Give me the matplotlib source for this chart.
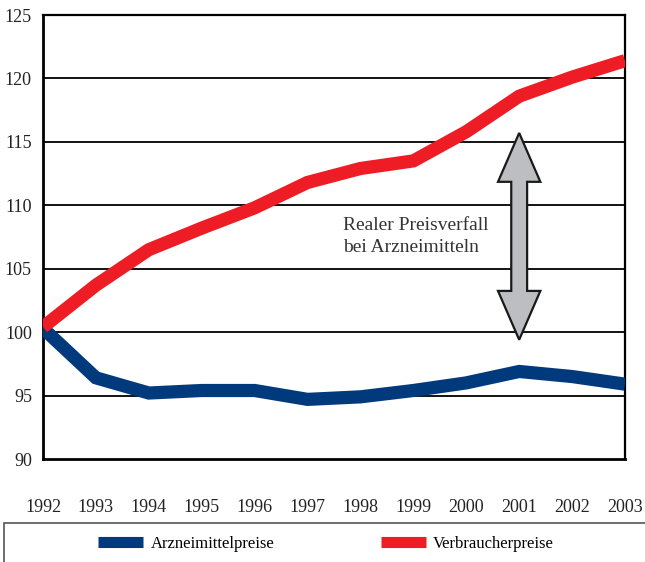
import matplotlib
matplotlib.use("Agg")
import matplotlib.pyplot as plt
from matplotlib.patches import Polygon, Rectangle
from matplotlib.lines import Line2D

years = [1992, 1993, 1994, 1995, 1996, 1997, 1998, 1999, 2000, 2001, 2002, 2003]
arznei = [100.3, 96.4, 95.2, 95.4, 95.4, 94.7, 94.9, 95.4, 96.0, 96.9, 96.5, 95.9]
verbraucher = [100.4, 103.7, 106.5, 108.2, 109.8, 111.8, 112.9, 113.5, 115.8, 118.6, 120.1, 121.4]
yticks = [90, 95, 100, 105, 110, 115, 120, 125]
labels = ["Arzneimittelpreise", "Verbraucherpreise"]
annot_lines = ["Realer Preisverfall", "bei Arzneimitteln"]

BLUE = "#003a7d"
RED = "#ee1c25"
serif = ["Liberation Serif", "DejaVu Serif"]

W, H = 645, 562
fig = plt.figure(figsize=(W / 100, H / 100), dpi=100)
L, R, T, B = 43, 625, 15, 459
ax = fig.add_axes([L / W, (H - B) / H, (R - L) / W, (B - T) / H])

ax.plot(years, arznei, color=BLUE, lw=9.5, solid_capstyle="butt", solid_joinstyle="miter", zorder=3)
ax.plot(years, verbraucher, color=RED, lw=9.5, solid_capstyle="butt", solid_joinstyle="miter", zorder=3)

ax.set_xlim(years[0], years[-1])
ax.set_ylim(yticks[0], yticks[-1])
ax.set_yticks(yticks)
ax.set_xticks(years)
ax.set_yticklabels([str(v) for v in yticks], family=serif, fontsize=13)
ax.set_xticklabels([str(v) for v in years], family=serif, fontsize=13)
ax.tick_params(axis="both", length=0, colors="#222222")
ax.tick_params(axis="y", pad=8)
ax.tick_params(axis="x", pad=29)
for v in yticks[1:-1]:
    ax.axhline(v, color="black", lw=1.3, zorder=1)
for s in ax.spines.values():
    s.set_color("black")
    s.set_linewidth(1.6)
ax.spines["left"].set_linewidth(2.0)
ax.spines["bottom"].set_linewidth(2.0)

# double-headed arrow (annotation)
xc, ytop, ybot = 2001.0, 115.7, 99.4
hw, sw, hl = 0.40, 0.15, 3.85
pts = [(xc, ytop), (xc + hw, ytop - hl), (xc + sw, ytop - hl), (xc + sw, ybot + hl),
       (xc + hw, ybot + hl), (xc, ybot), (xc - hw, ybot + hl), (xc - sw, ybot + hl),
       (xc - sw, ytop - hl), (xc - hw, ytop - hl)]
ax.add_patch(Polygon(pts, closed=True, facecolor="#bdbec2", edgecolor="#1a1a1a", lw=1.6, zorder=4, joinstyle="miter"))

for txt, yv in zip(annot_lines, [108.05, 106.3]):
    ax.text(1997.67, yv, txt, family=serif, fontsize=14, color="#333333",
            ha="left", va="baseline", zorder=5)

# legend box
fig.patches.append(Rectangle((4 / W, -0.01), (W - 4) / W + 0.01, (H - 523) / H + 0.01,
                             transform=fig.transFigure, fill=False, edgecolor="#555555", lw=1.2))
handles = [Line2D([], [], color=BLUE, lw=8, solid_capstyle="butt"),
           Line2D([], [], color=RED, lw=8, solid_capstyle="butt")]
fig.legend(handles, labels, loc="center", bbox_to_anchor=(326 / W, (H - 544) / H),
           ncol=2, frameon=False, prop={"family": serif, "size": 12},
           handlelength=2.7, handletextpad=0.42, columnspacing=6.4, borderpad=0, borderaxespad=0)

fig.savefig("out.png", dpi=100)
